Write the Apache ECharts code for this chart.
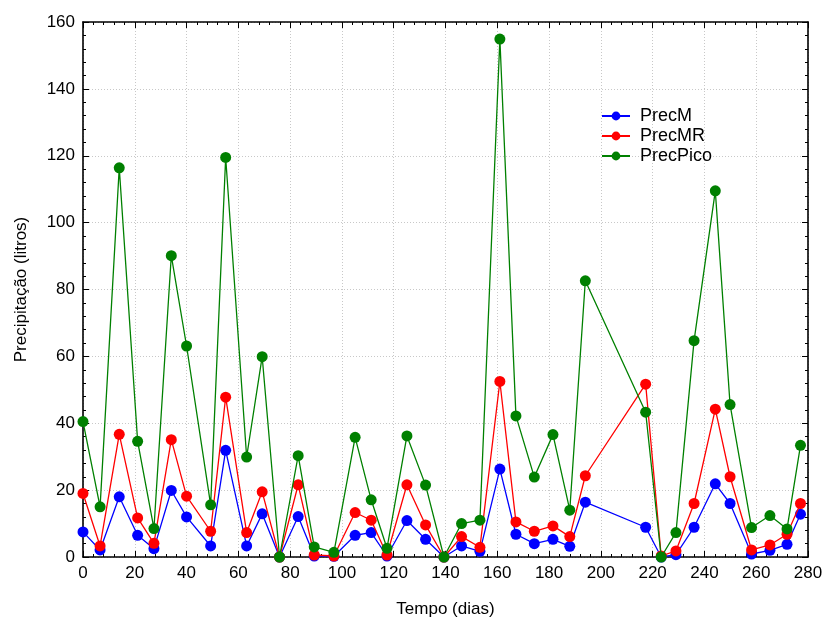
<!DOCTYPE html>
<html>
<head>
<meta charset="utf-8">
<script src="https://cdn.jsdelivr.net/npm/echarts@6/dist/echarts.min.js"></script>
<style>
html,body{margin:0;padding:0;background:#fff;}
#chart{width:825px;height:618px;}
</style>
</head>
<body>
<div id="chart"></div>
<script>
var days = [0, 6.6, 14, 21.1, 27.4, 34.1, 40, 49.3, 55.1, 63.2, 69.2, 75.9, 83.1, 89.3, 96.9, 105.1, 111.3, 117.4, 125.1, 132.3, 139.4, 146.2, 153.3, 161, 167.2, 174.3, 181.5, 188, 194, 217.3, 223.3, 229, 236, 244.2, 249.9, 258.2, 265.3, 271.9, 277.1];
var precM = [7.5, 2.1, 18, 6.5, 2.5, 19.9, 12, 3.3, 31.9, 3.3, 12.9, 0, 12.1, 0.3, 0.2, 6.5, 7.3, 0.3, 10.9, 5.3, 0, 3.3, 1.7, 26.3, 6.8, 4, 5.3, 3.2, 16.4, 8.9, 0, 0.7, 8.9, 21.9, 16, 0.9, 2, 3.8, 12.8];
var precMR = [19, 3.3, 36.7, 11.7, 4.1, 35.1, 18.2, 7.7, 47.8, 7.3, 19.5, 0, 21.6, 0.6, 0.3, 13.3, 11, 0.6, 21.6, 9.6, 0, 6.1, 2.9, 52.5, 10.5, 7.7, 9.3, 6.1, 24.3, 51.7, 0.3, 1.8, 16, 44.2, 24, 2.1, 3.6, 6.8, 16];
var precPico = [40.5, 15, 116.4, 34.6, 8.5, 90.1, 63.1, 15.6, 119.5, 29.9, 59.9, 0, 30.3, 3, 1.4, 35.8, 17.1, 2.6, 36.2, 21.5, 0, 10, 11, 154.9, 42.2, 23.9, 36.6, 14, 82.6, 43.3, 0, 7.3, 64.7, 109.5, 45.6, 8.8, 12.4, 8.4, 33.4];
var xTicks = {min: 0, max: 280, interval: 20};
var yTicks = {min: 0, max: 160, interval: 20};
var seriesNames = ['PrecM', 'PrecMR', 'PrecPico'];
var seriesColors = ['#0000ff', '#ff0000', '#008000'];

function pairs(vals){ return days.map(function(d,i){ return [d, vals[i]]; }); }
var allVals = [precM, precMR, precPico];

var font = 'Liberation Sans, Arial, sans-serif';
var tickCommon = {
  axisLine: {show: true, onZero: false, lineStyle: {color: '#000', width: 1.6}},
  axisTick: {show: true, inside: true, length: 6, lineStyle: {color: '#000', width: 1}},
  minorTick: {show: true, splitNumber: 5, length: 3, lineStyle: {color: '#000', width: 1}}
};

var chart = echarts.init(document.getElementById('chart'), null, {renderer: 'canvas'});
chart.setOption({
  animation: false,
  backgroundColor: '#fff',
  grid: {left: 83, top: 22, width: 725, height: 535, containLabel: false, outerBoundsMode: 'none'},
  legend: {
    orient: 'vertical', left: 596, top: 102, itemGap: 2,
    itemWidth: 28, itemHeight: 11,
    textStyle: {fontFamily: font, fontSize: 18, color: '#000', padding: [0, 0, 0, 5]},
    data: seriesNames
  },
  xAxis: [
    Object.assign({
      type: 'value', min: xTicks.min, max: xTicks.max, interval: xTicks.interval, position: 'bottom',
      name: 'Tempo (dias)', nameLocation: 'middle', nameGap: 44,
      nameTextStyle: {fontFamily: font, fontSize: 17, color: '#000'},
      axisLabel: {fontFamily: font, fontSize: 17, color: '#000', margin: 8},
      splitLine: {show: true, lineStyle: {color: '#c8c8c8', type: [1, 2], width: 1}}
    }, tickCommon),
    Object.assign({
      type: 'value', min: xTicks.min, max: xTicks.max, interval: xTicks.interval, position: 'top',
      axisLabel: {show: false}, splitLine: {show: false}
    }, tickCommon)
  ],
  yAxis: [
    Object.assign({
      type: 'value', min: yTicks.min, max: yTicks.max, interval: yTicks.interval, position: 'left',
      name: 'Precipitação (litros)', nameLocation: 'middle', nameGap: 53, nameRotate: 90,
      nameTextStyle: {fontFamily: font, fontSize: 17, color: '#000'},
      axisLabel: {fontFamily: font, fontSize: 17, color: '#000', margin: 8},
      splitLine: {show: true, lineStyle: {color: '#c8c8c8', type: [1, 2], width: 1}}
    }, tickCommon),
    Object.assign({
      type: 'value', min: yTicks.min, max: yTicks.max, interval: yTicks.interval, position: 'right',
      axisLabel: {show: false}, splitLine: {show: false}
    }, tickCommon)
  ],
  series: seriesNames.map(function(n, i){
    return {
      name: n, type: 'line', xAxisIndex: 0, yAxisIndex: 0,
      data: pairs(allVals[i]),
      symbol: 'circle', symbolSize: 11, showAllSymbol: true,
      itemStyle: {color: seriesColors[i]},
      lineStyle: {color: seriesColors[i], width: 1.3},
      z: 2 + i
    };
  })
});
</script>
</body>
</html>
